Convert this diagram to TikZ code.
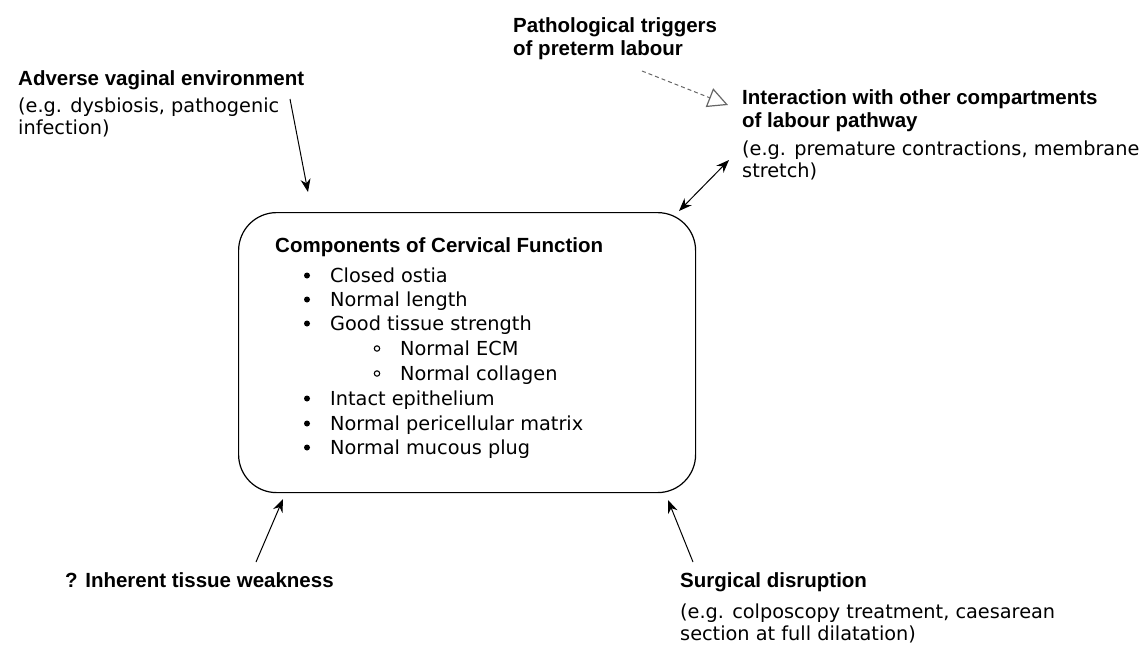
\documentclass[tikz,border=0pt]{standalone}
\usepackage{fontspec}
\setmainfont{DejaVu Sans}
\newfontfamily\headfont{Liberation Sans}
\usetikzlibrary{arrows.meta}
\begin{document}
\begin{tikzpicture}[x=1pt,y=-1pt]
		\tikzstyle{every node}+=[inner sep=0pt, anchor=base west, align=left]
		\tikzstyle{head}=[font=\headfont\bfseries\fontsize{20.5}{23}\selectfont]
		\tikzstyle{note}=[font=\fontsize{19.3}{22}\selectfont]
		\tikzstyle{link}=[line width=1pt, -{Stealth[length=13pt,width=10pt]}]
		\useasboundingbox (0,0) rectangle (1141,646);
		\node (cervix) [draw, line width=1.2pt, rounded corners=38pt, minimum width=457pt, minimum height=280pt, anchor=north west] at (238,212) {};
		\node (title) [head] at (275,252) {Components of Cervical Function};
		\foreach \name/\y/\txt in {ostia/282/Closed ostia, length/306/Normal length, strength/330/Good tissue strength, epithelium/405/Intact epithelium, matrix/430/Normal pericellular matrix, plug/454/Normal mucous plug} {
			\node (\name) [note] at (330,\y) {\txt};
			\fill (307,\y-6.5) circle (3);
		}
		\foreach \name/\y/\txt in {ecm/355/Normal ECM, collagen/380/Normal collagen} {
			\node (\name) [note] at (400,\y) {\txt};
			\draw [line width=1.1pt] (377,\y-6.5) circle (2.7);
		}
		\node (adverse) [head] at (18,85) {Adverse vaginal environment};
		\node (adverse-eg) [note] at (18,134) {(e.g. dysbiosis, pathogenic\\infection)};
		\node (triggers) [head] at (513,55) {Pathological triggers\\of preterm labour};
		\node (interaction) [head] at (742,127) {Interaction with other compartments\\of labour pathway};
		\node (interaction-eg) [note] at (742,177) {(e.g. premature contractions, membrane\\stretch)};
		\node (weakness) [head] at (65,587) {? Inherent tissue weakness};
		\node (surgical) [head] at (680,587) {Surgical disruption};
		\node (surgical-eg) [note] at (680,640) {(e.g. colposcopy treatment, caesarean\\section at full dilatation)};
		\coordinate (adverse-from) at (290,99);
		\coordinate (adverse-to) at (308,192);
		\coordinate (triggers-from) at (642,71);
		\coordinate (triggers-to) at (728,105);
		\coordinate (interaction-a) at (679,211);
		\coordinate (interaction-b) at (729,160);
		\coordinate (weakness-from) at (256,562);
		\coordinate (weakness-to) at (283,499);
		\coordinate (surgical-from) at (693,562);
		\coordinate (surgical-to) at (668,500);
		\draw [link] (adverse-from) -- (adverse-to);
		\draw [gray!80!black, line width=1pt, dash pattern=on 4pt off 3pt, -{Triangle[open, length=20pt, width=20pt, line width=1.2pt]}] (triggers-from) -- (triggers-to);
		\draw [line width=1pt, {Stealth[length=13pt,width=10pt]}-{Stealth[length=13pt,width=10pt]}] (interaction-a) -- (interaction-b);
		\draw [link] (weakness-from) -- (weakness-to);
		\draw [link] (surgical-from) -- (surgical-to);
\end{tikzpicture}
\end{document}
